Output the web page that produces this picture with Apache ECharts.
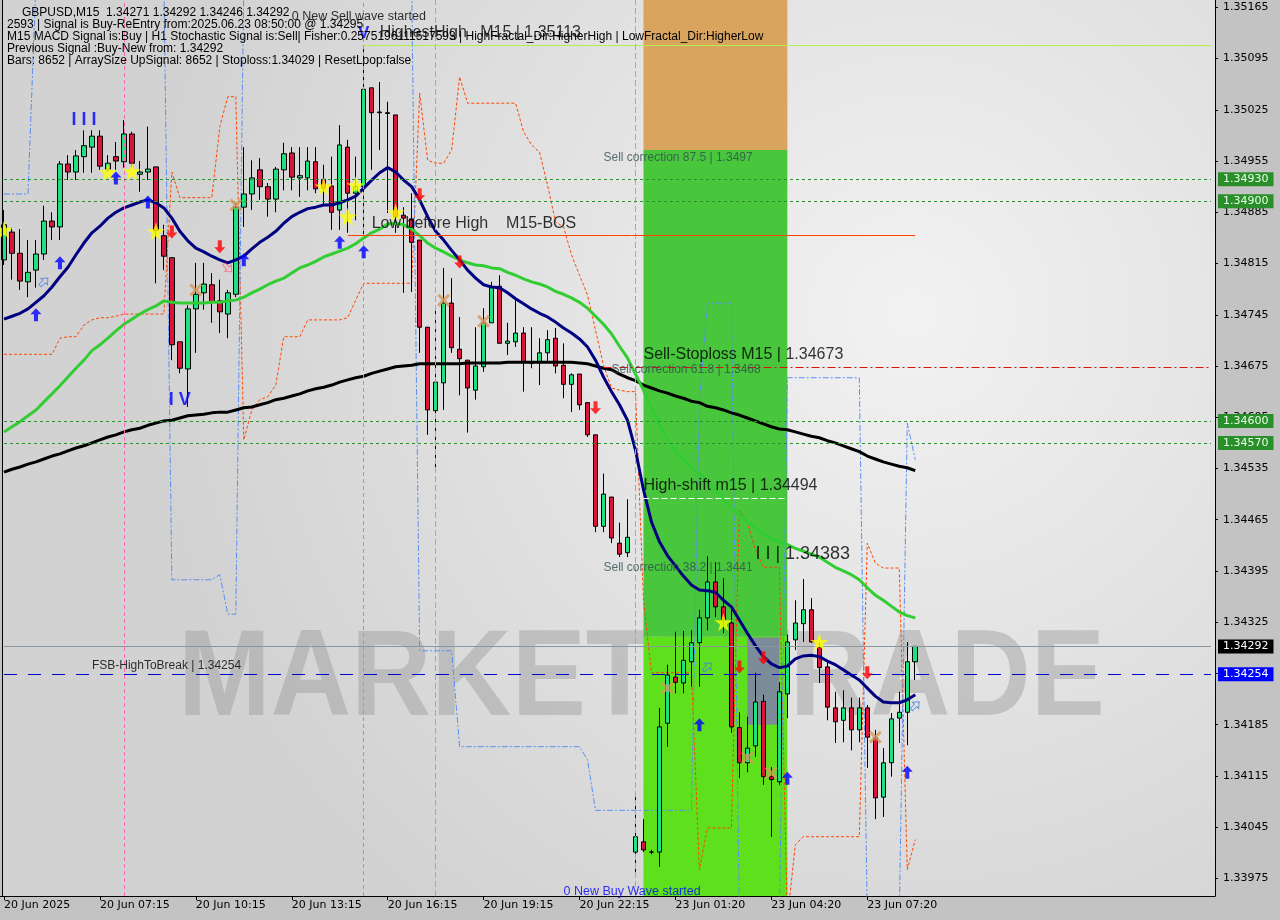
<!DOCTYPE html>
<html><head><meta charset="utf-8">
<script src="https://cdn.jsdelivr.net/npm/echarts@6/dist/echarts.min.js"></script>
<style>html,body{margin:0;padding:0;background:#c3c3c3}#c{width:1280px;height:920px}</style>
</head><body><div id="c"></div>
<script>
// ---------- DATA ----------
const xTickLabels = ['20 Jun 2025','20 Jun 07:15','20 Jun 10:15','20 Jun 13:15','20 Jun 16:15','20 Jun 19:15','20 Jun 22:15','23 Jun 01:20','23 Jun 04:20','23 Jun 07:20'];
const yTicks = [1.33975,1.34045,1.34115,1.34185,1.34255,1.34325,1.34395,1.34465,1.34535,1.34605,1.34675,1.34745,1.34815,1.34885,1.34955,1.35025,1.35095,1.35165];

const opens = [
1.34820,1.34858,1.34829,1.34790,1.34806,1.34828,1.34873,1.34865,1.34951,1.34940,
1.34961,1.34974,1.34989,1.34944,1.34961,1.34954,1.34992,1.34937,1.34940,1.34947,
1.34853,1.34823,1.34708,1.34671,1.34753,1.34775,1.34786,1.34764,1.34746,1.34773,
1.34892,1.34910,1.34943,1.34920,1.34903,1.34943,1.34966,1.34932,1.34932,1.34954,
1.34930,1.34921,1.34888,1.34974,1.34911,1.34920,1.35055,1.35022,1.35021,1.35018,
1.34881,1.34876,1.34847,1.34728,1.34614,1.34652,1.34761,1.34698,1.34683,1.34642,
1.34674,1.34734,1.34784,1.34706,1.34708,1.34720,1.34679,1.34681,1.34693,1.34713,
1.34676,1.34650,1.34664,1.34625,1.34581,1.34456,1.34496,1.34433,1.34420,1.34011,
1.34025,1.34011,1.34011,1.34187,1.34250,1.34242,1.34271,1.34297,1.34331,1.34380,
1.34346,1.34324,1.34181,1.34133,1.34156,1.34217,1.34114,1.34107,1.34227,1.34301,
1.34323,1.34342,1.34291,1.34264,1.34208,1.34191,1.34208,1.34178,1.34208,1.34167,
1.34086,1.34133,1.34194,1.34202,1.34271];
const highs = [
1.34888,1.34864,1.34862,1.34847,1.34847,1.34894,1.34885,1.34955,1.34963,1.34970,
1.34997,1.34997,1.34997,1.34963,1.34981,1.35011,1.34995,1.34955,1.35002,1.34947,
1.34868,1.34823,1.34708,1.34758,1.34816,1.34816,1.34802,1.34793,1.34779,1.34898,
1.34974,1.34956,1.34959,1.34925,1.34947,1.34980,1.34974,1.34974,1.34974,1.34974,
1.34950,1.34961,1.35004,1.34984,1.34961,1.35113,1.35055,1.35063,1.35036,1.35018,
1.34892,1.34911,1.34847,1.34728,1.34756,1.34809,1.34795,1.34742,1.34683,1.34728,
1.34754,1.34790,1.34799,1.34734,1.34765,1.34728,1.34728,1.34713,1.34724,1.34727,
1.34706,1.34665,1.34664,1.34625,1.34581,1.34528,1.34496,1.34461,1.34493,1.34086,
1.34056,1.34014,1.34208,1.34267,1.34312,1.34313,1.34314,1.34342,1.34415,1.34407,
1.34385,1.34342,1.34202,1.34196,1.34256,1.34226,1.34127,1.34243,1.34308,1.34355,
1.34384,1.34358,1.34297,1.34273,1.34230,1.34232,1.34222,1.34222,1.34212,1.34178,
1.34153,1.34201,1.34230,1.34298,1.34292];
const lows = [
1.34813,1.34793,1.34779,1.34769,1.34782,1.34820,1.34847,1.34847,1.34929,1.34929,
1.34939,1.34939,1.34943,1.34940,1.34943,1.34946,1.34946,1.34913,1.34929,1.34788,
1.34806,1.34683,1.34665,1.34619,1.34693,1.34752,1.34734,1.34720,1.34713,1.34769,
1.34865,1.34888,1.34902,1.34879,1.34885,1.34915,1.34915,1.34906,1.34915,1.34911,
1.34895,1.34861,1.34861,1.34857,1.34874,1.34851,1.34943,1.34970,1.34884,1.34857,
1.34775,1.34776,1.34693,1.34581,1.34536,1.34615,1.34693,1.34635,1.34584,1.34629,
1.34667,1.34734,1.34706,1.34690,1.34701,1.34640,1.34672,1.34649,1.34681,1.34665,
1.34631,1.34612,1.34615,1.34578,1.34448,1.34448,1.34433,1.34414,1.34414,1.33982,
1.34011,1.34008,1.33991,1.34155,1.34228,1.34228,1.34237,1.34237,1.34314,1.34332,
1.34310,1.34174,1.34112,1.34120,1.34141,1.34103,1.34032,1.34103,1.34194,1.34287,
1.34298,1.34297,1.34242,1.34191,1.34160,1.34161,1.34150,1.34161,1.34126,1.34056,
1.34059,1.34114,1.34160,1.34157,1.34246];
const closes = [
1.34868,1.34829,1.34791,1.34803,1.34828,1.34873,1.34865,1.34951,1.34940,1.34962,
1.34976,1.34989,1.34948,1.34952,1.34955,1.34992,1.34952,1.34940,1.34944,1.34860,
1.34825,1.34704,1.34672,1.34753,1.34773,1.34787,1.34762,1.34749,1.34775,1.34892,
1.34910,1.34932,1.34920,1.34903,1.34944,1.34965,1.34933,1.34935,1.34955,1.34917,
1.34918,1.34885,1.34977,1.34911,1.34920,1.35053,1.35021,1.35021,1.35020,1.34879,
1.34877,1.34844,1.34728,1.34615,1.34653,1.34761,1.34700,1.34685,1.34645,1.34675,
1.34734,1.34783,1.34706,1.34709,1.34720,1.34681,1.34679,1.34693,1.34711,1.34675,
1.34650,1.34663,1.34622,1.34581,1.34456,1.34500,1.34440,1.34418,1.34441,1.34032,
1.34014,1.34011,1.34182,1.34253,1.34243,1.34273,1.34297,1.34331,1.34380,1.34346,
1.34328,1.34182,1.34133,1.34153,1.34216,1.34114,1.34110,1.34230,1.34298,1.34324,
1.34342,1.34298,1.34263,1.34209,1.34189,1.34208,1.34178,1.34208,1.34168,1.34085,
1.34133,1.34193,1.34202,1.34271,1.34292];

const maFast = [
1.34739,1.34743,1.34747,1.34753,1.34762,1.34771,1.34783,1.34797,1.34810,1.34827,
1.34843,1.34857,1.34866,1.34877,1.34885,1.34891,1.34895,1.34899,1.34902,1.34898,
1.34891,1.34877,1.34859,1.34846,1.34836,1.34831,1.34825,1.34820,1.34816,1.34820,
1.34825,1.34835,1.34844,1.34851,1.34859,1.34870,1.34879,1.34885,1.34890,1.34892,
1.34895,1.34895,1.34898,1.34902,1.34907,1.34918,1.34929,1.34939,1.34946,1.34940,
1.34929,1.34920,1.34902,1.34879,1.34859,1.34847,1.34833,1.34820,1.34806,1.34795,
1.34786,1.34783,1.34782,1.34775,1.34767,1.34760,1.34753,1.34747,1.34742,1.34735,
1.34727,1.34720,1.34712,1.34701,1.34683,1.34660,1.34640,1.34622,1.34601,1.34560,
1.34506,1.34462,1.34435,1.34416,1.34402,1.34388,1.34376,1.34369,1.34368,1.34366,
1.34355,1.34346,1.34328,1.34310,1.34293,1.34278,1.34268,1.34263,1.34265,1.34275,
1.34279,1.34280,1.34278,1.34272,1.34267,1.34260,1.34253,1.34246,1.34235,1.34224,
1.34216,1.34215,1.34215,1.34219,1.34226];
const maMid = [
1.34585,1.34592,1.34599,1.34607,1.34615,1.34626,1.34637,1.34648,1.34660,1.34672,
1.34683,1.34696,1.34704,1.34713,1.34723,1.34732,1.34739,1.34746,1.34752,1.34757,
1.34764,1.34762,1.34761,1.34761,1.34761,1.34761,1.34762,1.34762,1.34764,1.34765,
1.34769,1.34775,1.34780,1.34786,1.34791,1.34795,1.34802,1.34809,1.34813,1.34818,
1.34824,1.34828,1.34832,1.34836,1.34842,1.34850,1.34857,1.34862,1.34869,1.34870,
1.34868,1.34862,1.34853,1.34843,1.34836,1.34831,1.34825,1.34820,1.34816,1.34813,
1.34812,1.34809,1.34808,1.34803,1.34799,1.34794,1.34790,1.34787,1.34783,1.34777,
1.34773,1.34768,1.34762,1.34754,1.34743,1.34732,1.34719,1.34702,1.34686,1.34664,
1.34642,1.34618,1.34594,1.34574,1.34559,1.34547,1.34536,1.34528,1.34517,1.34506,
1.34492,1.34481,1.34472,1.34462,1.34454,1.34446,1.34439,1.34435,1.34431,1.34426,
1.34422,1.34418,1.34414,1.34407,1.34400,1.34395,1.34390,1.34383,1.34372,1.34362,
1.34355,1.34347,1.34339,1.34334,1.34331];
const maSlow = [
1.34530,1.34534,1.34537,1.34541,1.34544,1.34548,1.34552,1.34555,1.34559,1.34563,
1.34566,1.34570,1.34574,1.34578,1.34581,1.34585,1.34588,1.34590,1.34594,1.34597,
1.34600,1.34601,1.34604,1.34607,1.34608,1.34609,1.34611,1.34612,1.34612,1.34615,
1.34618,1.34619,1.34622,1.34625,1.34629,1.34631,1.34634,1.34637,1.34641,1.34644,
1.34646,1.34649,1.34653,1.34656,1.34659,1.34661,1.34665,1.34668,1.34671,1.34674,
1.34675,1.34676,1.34678,1.34678,1.34678,1.34678,1.34678,1.34678,1.34679,1.34679,
1.34679,1.34679,1.34679,1.34680,1.34680,1.34680,1.34680,1.34680,1.34680,1.34680,
1.34680,1.34680,1.34679,1.34678,1.34675,1.34672,1.34670,1.34664,1.34659,1.34655,
1.34649,1.34645,1.34641,1.34638,1.34634,1.34631,1.34627,1.34625,1.34620,1.34618,
1.34615,1.34611,1.34608,1.34604,1.34600,1.34596,1.34592,1.34589,1.34588,1.34585,
1.34582,1.34579,1.34577,1.34573,1.34570,1.34566,1.34562,1.34558,1.34552,1.34548,
1.34544,1.34541,1.34538,1.34536,1.34532];
const bandOrange = [
1.34691,1.34691,1.34691,1.34691,1.34691,1.34691,1.34691,1.34713,1.34715,1.34715,
1.34731,1.34738,1.34741,1.34741,1.34743,1.34746,1.34746,1.34746,1.34746,1.34746,
1.34746,1.34940,1.34905,1.34905,1.34905,1.34905,1.34905,1.35002,1.35043,1.35043,
1.34574,1.34615,1.34629,1.34633,1.34649,1.34715,1.34715,1.34715,1.34738,1.34738,
1.34738,1.34738,1.34738,1.34741,1.34765,1.34788,1.34788,1.34788,1.34788,1.34788,
1.34788,1.34788,1.35048,1.34956,1.34952,1.34952,1.34970,1.35070,1.35034,1.35034,
1.35034,1.35034,1.35034,1.35034,1.35034,1.34995,1.34977,1.34967,1.34922,1.34872,
1.34865,1.34827,1.34799,1.34772,1.34724,1.34676,1.34645,1.34642,1.34640,1.34640,
1.34355,1.34256,1.34256,1.34256,1.34256,1.34256,1.34256,1.33987,1.34044,1.34044,
1.34044,1.34044,1.34478,1.34461,1.34424,1.34400,1.34400,1.34400,1.33920,1.34021,
1.34032,1.34032,1.34032,1.34032,1.34032,1.34032,1.34032,1.34032,1.34433,1.34406,
1.34399,1.34399,1.34399,1.33987,1.34028];
const bandBlue = [
1.34910,1.34910,1.34910,1.34910,1.35200,1.35200,1.35200,1.35200,1.35200,1.35200,
1.35200,1.35200,1.35200,1.35200,1.35200,1.35200,1.35200,1.35200,1.35200,1.35200,
1.35200,1.34383,1.34383,1.34383,1.34383,1.34383,1.34383,1.34390,1.34336,1.34336,
1.35200,1.35200,1.35200,1.35200,1.35200,1.35200,1.35200,1.35200,1.35200,1.35200,
1.35200,1.35200,1.35200,1.35200,1.35200,1.35200,1.35200,1.35200,1.35200,1.35200,
1.35200,1.35200,1.34286,1.34286,1.34286,1.34286,1.34286,1.34155,1.34155,1.34155,
1.34155,1.34155,1.34155,1.34155,1.34155,1.34155,1.34155,1.34155,1.34155,1.34155,
1.34155,1.34155,1.34155,1.34137,1.34068,1.34068,1.34068,1.34068,1.34068,1.34068,
1.34068,1.34068,1.34068,1.34068,1.34068,1.34068,1.34068,1.34629,1.34761,1.34761,
1.34761,1.34761,1.33920,1.33920,1.33920,1.33920,1.33920,1.33920,1.34659,1.34659,
1.34659,1.34659,1.34659,1.34659,1.34659,1.34659,1.34659,1.34659,1.33920,1.33920,
1.33920,1.33920,1.33920,1.34597,1.34547];

const starIdx = [0,13,16,19,40,43,44,49,90,102];
const starPrice = [1.34861,1.34940,1.34941,1.34859,1.34920,1.34879,1.34922,1.34885,1.34325,1.34298];
const crossIdx = [24,29,55,60,83,93,96,109];
const crossPrice = [1.34779,1.34895,1.34765,1.34736,1.34235,1.34140,1.34119,1.34168];
const upIdx = [4,7,14,18,30,42,45,87,98,113];
const upPrice = [1.34745,1.34816,1.34932,1.34899,1.34820,1.34844,1.34831,1.34185,1.34112,1.34120];
const downIdx = [21,27,52,57,74,92,95,108];
const downPrice = [1.34858,1.34838,1.34909,1.34817,1.34618,1.34264,1.34276,1.34256];

const levelsGreen = [1.34930,1.34900,1.34600,1.34570];
const lastPrice = 1.34292;
const fsbLevel = 1.34254;
const stopLevel = 1.34673;
const highShift = 1.34494;
const lowBeforeHigh = 1.34854;
const highestHigh = 1.35113;
const corr875 = 1.3497, corr382 = 1.34305;
const yMin = 1.33951, yMax = 1.35175;

const infoLines = [
 'GBPUSD,M15  1.34271 1.34292 1.34246 1.34292',
 '2593 | Signal is Buy-ReEntry from:2025.06.23 08:50:00 @ 1.34295',
 'M15 MACD Signal is:Buy | H1 Stochastic Signal is:Sell| Fisher:0.2575196111517593 | HighFractal_Dir:HigherHigh | LowFractal_Dir:HigherLow',
 'Previous Signal :Buy-New from: 1.34292',
 'Bars: 8652 | ArraySize UpSignal: 8652 | Stoploss:1.34029 | ResetLoop:false'
];

// ---------- BUILD ----------
const SLOTS = 152;
const cats = Array.from({length: SLOTS}, (_, i) => String(i));
const tickMap = {}; xTickLabels.forEach((t, k) => tickMap[k * 12] = t);
const isTick = i => tickMap[i] !== undefined;
const candleData = opens.map((o, i) => [o, closes[i], lows[i], highs[i]]);
const pts = (idx, pr) => idx.map((i, k) => [i, pr[k]]);
const LAST = SLOTS - 1;

const ARROW = 'path://M6,0 L12,6 L8.2,6 L8.2,13 L3.8,13 L3.8,6 L0,6 Z';
const STAR = 'path://M50,0 L61,35 L98,35 L68,57 L79,91 L50,70 L21,91 L32,57 L2,35 L39,35 Z';
const CROSS = 'path://M0,2 L2,0 L6,4 L10,0 L12,2 L8,6 L12,10 L10,12 L6,8 L2,12 L0,10 L4,6 Z';
const FONT = 'Liberation Sans';

function ann(i, p, text, st) {
  return {value: [i, p], label: Object.assign({show: true, position: 'right', distance: 0, formatter: text, fontFamily: FONT, color: '#000', fontSize: 16}, st || {})};
}
const annotations = [
  ann(36.2, 1.35152, '0 New Sell wave started', {fontSize: 12.5}),
  ann(47.4, 1.35130, 'HighestHigh   M15 | 1.35113'),
  ann(45.5, 1.34870, 'Low before High    M15-BOS'),
  ann(75.2, 1.34959, 'Sell correction 87.5 | 1.3497', {fontSize: 12, color: '#2f4f4f'}),
  ann(79.9, 1.34690, 'Sell-Stoploss M15 | 1.34673'),
  ann(75.5, 1.34670, 'Sell correction 61.8 | 1.3468', {fontSize: 12, color: '#2f4f4f'}),
  ann(79.9, 1.34511, 'High-shift m15 | 1.34494'),
  ann(94, 1.34418, 'I I | 1.34383', {fontSize: 18}),
  ann(75.2, 1.34400, 'Sell correction 38.2 | 1.3441', {fontSize: 12, color: '#2f4f4f'}),
  ann(10.6, 1.34265, 'FSB-HighToBreak | 1.34254', {fontSize: 12}),
  ann(69.9, 1.33957, '0 New Buy Wave started', {fontSize: 12.5, color: '#0000ff'}),
  ann(10.1, 1.35011, 'I I I', {position: 'inside', fontSize: 18, color: '#0000ff', fontWeight: 'bold'}),
  ann(22, 1.34629, 'I V', {position: 'inside', fontSize: 18, color: '#0000ff', fontWeight: 'bold'}),
  ann(45.25, 1.35129, 'V', {position: 'inside', fontSize: 17, color: '#0000ff', fontWeight: 'bold'})
];

// full-width horizontal level drawn as a segment, with its price tag in the axis strip
function level(v, line, bg, fg) {
  const from = {coord: [0, v], lineStyle: line, label: {show: false}};
  if (bg) from.label = {show: true, position: 'end', distance: 7, formatter: v.toFixed(5),
    backgroundColor: bg, color: fg, padding: [2, 5, 1, 5], fontFamily: 'DejaVu Sans', fontSize: 11};
  return [from, {coord: [LAST, v]}];
}

const chart = echarts.init(document.getElementById('c'));
const option = {
  animation: false,
  backgroundColor: '#c3c3c3',
  grid: {left: -1, right: 65, top: 0, bottom: 24, containLabel: false},
  xAxis: {
    type: 'category', data: cats, boundaryGap: true,
    axisLine: {show: true, onZero: false, lineStyle: {color: '#000', width: 1}},
    axisTick: {show: true, alignWithLabel: true, interval: isTick, length: 4, lineStyle: {color: '#000'}},
    axisLabel: {interval: isTick, formatter: (v, i) => tickMap[i] || '', align: 'left', color: '#000',
      fontFamily: 'DejaVu Sans', fontSize: 11, margin: 4},
    splitLine: {show: false}
  },
  yAxis: {
    type: 'value', position: 'right', min: yMin, max: yMax,
    axisLine: {show: true, lineStyle: {color: '#000'}},
    axisTick: {show: true, customValues: yTicks, length: 3, lineStyle: {color: '#000'}},
    axisLabel: {customValues: yTicks, formatter: v => v.toFixed(5), color: '#000', fontFamily: 'DejaVu Sans', fontSize: 11, margin: 8},
    splitLine: {show: false}
  },
  graphic: [
    {type: 'rect', z: -100, shape: {x: 2, y: 0, width: 1213, height: 896},
     style: {fill: new echarts.graphic.RadialGradient(0.75, 0.35, 0.85, [{offset: 0, color: '#f2f2f2'}, {offset: 1, color: '#d2d2d2'}])}},
    {type: 'text', z: -50, x: 178, y: 681, scaleX: 1.03, scaleY: 1.14, style: {text: 'MARKETZTRADE', font: 'bold 108px "Liberation Sans"', fill: 'rgba(150,150,150,0.42)', verticalAlign: 'middle'}},
    {type: 'line', z: 50, shape: {x1: 2.5, y1: 0, x2: 2.5, y2: 896}, style: {stroke: '#000', lineWidth: 1}},
  ].concat(infoLines.map((t, k) => ({type: 'text', z: 60, x: k === 0 ? 22 : 7, y: [13, 25, 37, 49, 61][k],
    style: {text: t, font: '12px "Liberation Sans"', fill: '#000', verticalAlign: 'middle'}}))),
  series: [
    { // zones
      type: 'line', z: 1, silent: true, data: [],
      markArea: {silent: true, data: [
        [{xAxis: 80, yAxis: yMax, itemStyle: {color: '#d8a45e'}}, {xAxis: 98, yAxis: corr875}],
        [{xAxis: 80, yAxis: corr875, itemStyle: {color: '#48c63c'}}, {xAxis: 98, yAxis: corr382}],
        [{xAxis: 80, yAxis: corr382, itemStyle: {color: '#5fe01c'}}, {xAxis: 98, yAxis: yMin}],
        [{xAxis: 93, yAxis: 1.34304, itemStyle: {color: '#7b8b98'}}, {xAxis: 97, yAxis: 1.34185}]
      ]}
    },
    { // guide lines
      type: 'line', z: 2, silent: true, data: [],
      markLine: {silent: true, symbol: 'none', label: {show: false}, data: [
        {xAxis: 15, lineStyle: {color: '#ff69b4', type: [4, 3], width: 1}},
        {xAxis: 45, lineStyle: {color: '#ff69b4', type: [4, 3], width: 1}},
        {xAxis: 54, lineStyle: {color: '#20e0e0', type: [6, 3], width: 1}},
        {xAxis: 79, lineStyle: {color: '#20e0e0', type: [6, 3], width: 1}},
        [{coord: [45, highestHigh], lineStyle: {color: '#b4ee50', type: 'solid', width: 1}}, {coord: [LAST, highestHigh]}],
        [{coord: [43, lowBeforeHigh], lineStyle: {color: '#ff4500', type: 'solid', width: 1}}, {coord: [114, lowBeforeHigh]}],
        [{coord: [75, stopLevel], lineStyle: {color: '#e01010', type: [8, 3, 2, 3], width: 1}}, {coord: [LAST, stopLevel]}],
        [{coord: [80, highShift], lineStyle: {color: '#ffffff', type: [6, 3], width: 1}}, {coord: [98, highShift]}]
      ]}
    },
    { // horizontal levels with axis tags
      type: 'line', z: 2, silent: true, data: [],
      markLine: {silent: true, symbol: 'none', label: {show: false}, data: [
        ...levelsGreen.map(v => level(v, {color: '#2a922a', type: [3, 3], width: 1}, '#2a8f2a', '#e8ffe8')),
        level(lastPrice, {color: '#8a96a0', type: 'solid', width: 1}, '#000000', '#ffffff'),
        level(fsbLevel, {color: '#0000cd', type: [13, 11], width: 1}, '#0000ff', '#ffffff')
      ]}
    },
    {type: 'line', z: 2.5, data: bandOrange, symbol: 'none', silent: true,
     lineStyle: {color: '#ff4500', width: 1, type: [3, 2]}},
    {type: 'line', z: 2.5, data: bandBlue, symbol: 'none', silent: true,
     lineStyle: {color: '#5b8ff0', width: 1, type: [6, 2, 2, 2]}},
    {type: 'candlestick', z: 3, data: candleData, barWidth: 5, silent: true,
     itemStyle: {color: '#1de27e', color0: '#dc143c', borderColor: '#000', borderColor0: '#000', borderWidth: 1}},
    {type: 'line', z: 4, data: maSlow, symbol: 'none', silent: true, lineStyle: {color: '#000000', width: 3}},
    {type: 'line', z: 4, data: maMid, symbol: 'none', silent: true, lineStyle: {color: '#32cd32', width: 3}},
    {type: 'line', z: 4, data: maFast, symbol: 'none', silent: true, lineStyle: {color: '#000080', width: 3}},
    {type: 'scatter', z: 5, silent: true, data: pts(starIdx, starPrice), symbol: STAR, symbolSize: 18, itemStyle: {color: '#ffff00'}},
    {type: 'scatter', z: 5, silent: true, data: pts(crossIdx, crossPrice), symbol: CROSS, symbolSize: 13, itemStyle: {color: '#d49a5a'}},
    {type: 'scatter', z: 5, silent: true, data: pts(upIdx, upPrice), symbol: ARROW, symbolSize: [11, 13], itemStyle: {color: '#0000ff'}},
    {type: 'scatter', z: 5, silent: true, data: pts(downIdx, downPrice), symbol: ARROW, symbolRotate: 180, symbolSize: [11, 13], itemStyle: {color: '#ff0000'}},
    {type: 'scatter', z: 5, silent: true, data: [[5, 1.34790], [88, 1.34264], [114, 1.34211]], symbol: ARROW, symbolRotate: -45, symbolSize: [9, 11],
     itemStyle: {color: 'rgba(0,0,0,0)', borderColor: '#4a7fe0', borderWidth: 1}},
    {type: 'scatter', z: 5, silent: true, data: [[28, 1.34809]], symbol: ARROW, symbolRotate: -135, symbolSize: [9, 11],
     itemStyle: {color: 'rgba(0,0,0,0)', borderColor: '#ff6070', borderWidth: 1}},
    {type: 'scatter', z: 7, silent: true, data: annotations, symbolSize: 0}
  ]
};
chart.setOption(option);
</script>
</body></html>
